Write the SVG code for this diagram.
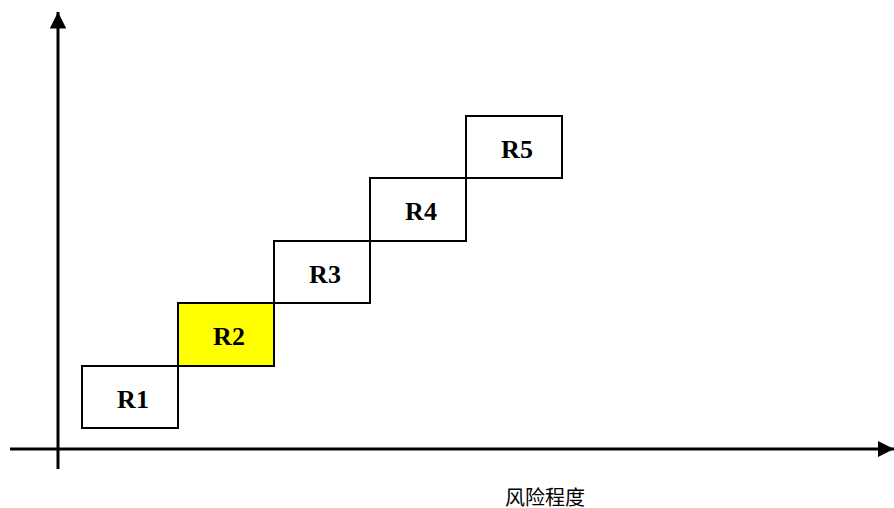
<svg xmlns="http://www.w3.org/2000/svg" width="894" height="508" viewBox="0 0 894 508">
<style>
.box{fill:#fff;stroke:#000;stroke-width:2}
.hl{fill:#ffff00}
.lbl{font-family:"Liberation Serif","Times New Roman",serif;font-weight:bold;font-size:26px;text-anchor:middle;fill:#000}
.axis{stroke:#000;stroke-width:3;fill:none}
.cap{font-family:"Liberation Serif","Noto Sans CJK SC",serif;font-size:20px;fill:#000}
</style>
<defs>
<marker id="arr" viewBox="0 0 10 10" refX="10" refY="5" markerWidth="5.5" markerHeight="5.5" markerUnits="strokeWidth" orient="auto">
<path d="M0,0 L10,5 L0,10 z" fill="#000"/>
</marker>
</defs>
<g id="connectors">
<line class="axis" x1="58" y1="469" x2="58" y2="12" marker-end="url(#arr)"/>
<line class="axis" x1="10" y1="449" x2="894" y2="449" marker-end="url(#arr)"/>
</g>
<g id="R1"><rect class="box" x="82" y="366" width="96" height="62"/><text class="lbl" x="133" y="408">R1</text></g>
<g id="R2"><rect class="box hl" x="178" y="303" width="96" height="63"/><text class="lbl" x="229" y="345">R2</text></g>
<g id="R3"><rect class="box" x="274" y="241" width="96" height="62"/><text class="lbl" x="325" y="283">R3</text></g>
<g id="R4"><rect class="box" x="370" y="178" width="96" height="63"/><text class="lbl" x="421" y="220">R4</text></g>
<g id="R5"><rect class="box" x="466" y="116" width="96" height="62"/><text class="lbl" x="517" y="158">R5</text></g>
<text id="xlabel" class="cap" x="505" y="505">风险程度</text>
</svg>
